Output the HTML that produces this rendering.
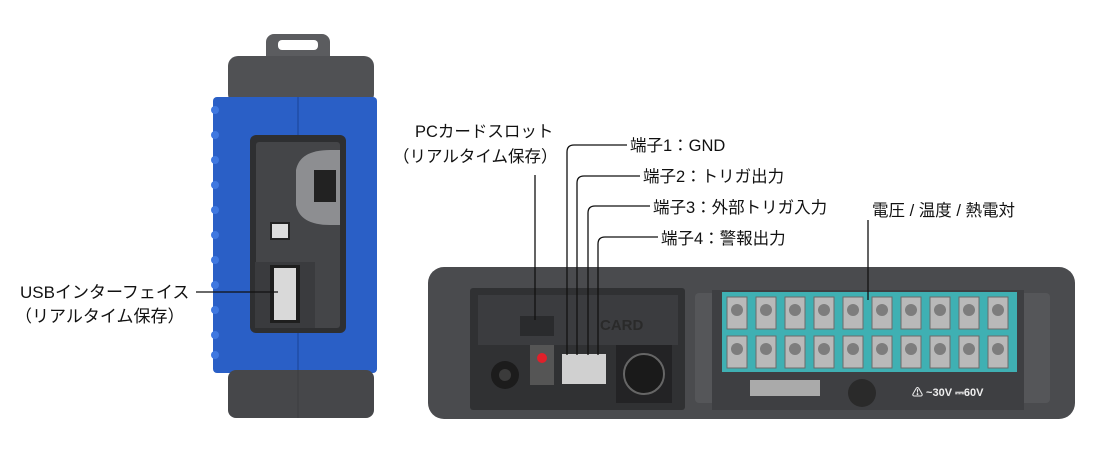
<!DOCTYPE html>
<html><head><meta charset="utf-8"><style>
html,body{margin:0;padding:0;background:#fff;width:1100px;height:450px;overflow:hidden}
svg{display:block}
text{font-family:"Liberation Sans","Noto Sans CJK JP",sans-serif;font-size:16.5px;fill:#111}
</style></head><body>
<svg width="1100" height="450" viewBox="0 0 1100 450">
<!-- Left device -->
<rect x="266" y="34" width="64" height="34" rx="8" fill="#5b5c5f"/>
<rect x="278" y="40" width="40" height="10" rx="4" fill="#fff"/>
<rect x="228" y="56" width="146" height="48" rx="10" fill="#505154"/>
<rect x="213" y="97" width="164" height="276" rx="4" fill="#2a5fc6"/>
<line x1="298" y1="97" x2="298" y2="373" stroke="#1f4da6" stroke-width="1.5"/>
<g fill="#3f78e0">
<circle cx="215" cy="110" r="4"/><circle cx="215" cy="135" r="4"/><circle cx="215" cy="160" r="4"/><circle cx="215" cy="185" r="4"/><circle cx="215" cy="210" r="4"/><circle cx="215" cy="235" r="4"/><circle cx="215" cy="260" r="4"/><circle cx="215" cy="285" r="4"/><circle cx="215" cy="310" r="4"/><circle cx="215" cy="335" r="4"/><circle cx="215" cy="355" r="4"/>
</g>
<rect x="250" y="135" width="96" height="198" rx="6" fill="#2e2f31"/>
<rect x="256" y="142" width="84" height="186" rx="3" fill="#444548"/>
<path d="M296 170 Q300 150 330 150 L340 150 L340 225 L330 225 Q300 225 296 205 Z" fill="#8d8e91"/>
<rect x="314" y="170" width="22" height="32" fill="#222"/>
<rect x="271" y="223" width="18" height="16" fill="#ddd" stroke="#222" stroke-width="2"/>
<rect x="255" y="262" width="60" height="66" fill="#3a3b3e"/>
<rect x="270" y="265" width="30" height="58" fill="#1e1e1e"/>
<rect x="274" y="268" width="22" height="52" fill="#d9d9d9"/>
<rect x="228" y="370" width="146" height="48" rx="8" fill="#46474a"/>
<line x1="298" y1="370" x2="298" y2="418" stroke="#3c3d40"/>

<!-- Right device -->
<rect x="428" y="267" width="647" height="152" rx="16" fill="#4a4b4e"/>
<rect x="470" y="288" width="215" height="122" rx="3" fill="#303133"/>
<rect x="478" y="295" width="200" height="50" fill="#3b3c3f"/>
<text x="600" y="330" style="font-size:15px;font-weight:bold;fill:#2a2a2a">CARD</text>
<rect x="520" y="316" width="34" height="20" fill="#2a2b2d"/>
<circle cx="505" cy="375" r="14" fill="#1c1c1c"/><circle cx="505" cy="375" r="6" fill="#3b3b3b"/>
<rect x="530" y="345" width="24" height="40" fill="#555"/>
<circle cx="542" cy="358" r="5" fill="#e0202a"/>
<rect x="562" y="354" width="44" height="30" fill="#d0d0d0"/>
<rect x="616" y="345" width="56" height="58" fill="#232325"/>
<circle cx="644" cy="374" r="20" fill="#1a1a1a" stroke="#666" stroke-width="2"/>
<rect x="695" y="293" width="30" height="110" rx="4" fill="#555659"/>
<rect x="1020" y="293" width="30" height="110" rx="4" fill="#555659"/>
<rect x="712" y="290" width="312" height="120" fill="#3e3f42"/>
<rect x="722" y="292" width="295" height="80" fill="#3fb0b3"/>
<g fill="#b9b9b9" stroke="#6b6b6b" stroke-width="1">
<rect x="727" y="297" width="20" height="32"/><rect x="756" y="297" width="20" height="32"/><rect x="785" y="297" width="20" height="32"/><rect x="814" y="297" width="20" height="32"/><rect x="843" y="297" width="20" height="32"/><rect x="872" y="297" width="20" height="32"/><rect x="901" y="297" width="20" height="32"/><rect x="930" y="297" width="20" height="32"/><rect x="959" y="297" width="20" height="32"/><rect x="988" y="297" width="20" height="32"/>
<rect x="727" y="336" width="20" height="32"/><rect x="756" y="336" width="20" height="32"/><rect x="785" y="336" width="20" height="32"/><rect x="814" y="336" width="20" height="32"/><rect x="843" y="336" width="20" height="32"/><rect x="872" y="336" width="20" height="32"/><rect x="901" y="336" width="20" height="32"/><rect x="930" y="336" width="20" height="32"/><rect x="959" y="336" width="20" height="32"/><rect x="988" y="336" width="20" height="32"/>
</g>
<g fill="#7d7d7d">
<circle cx="737" cy="310" r="6"/><circle cx="766" cy="310" r="6"/><circle cx="795" cy="310" r="6"/><circle cx="824" cy="310" r="6"/><circle cx="853" cy="310" r="6"/><circle cx="882" cy="310" r="6"/><circle cx="911" cy="310" r="6"/><circle cx="940" cy="310" r="6"/><circle cx="969" cy="310" r="6"/><circle cx="998" cy="310" r="6"/>
<circle cx="737" cy="349" r="6"/><circle cx="766" cy="349" r="6"/><circle cx="795" cy="349" r="6"/><circle cx="824" cy="349" r="6"/><circle cx="853" cy="349" r="6"/><circle cx="882" cy="349" r="6"/><circle cx="911" cy="349" r="6"/><circle cx="940" cy="349" r="6"/><circle cx="969" cy="349" r="6"/><circle cx="998" cy="349" r="6"/>
</g>
<rect x="750" y="380" width="70" height="16" fill="#aaa"/>
<circle cx="862" cy="393" r="14" fill="#2a2a2a"/>
<text x="912" y="396" style="font-size:11px;font-weight:bold;fill:#eee">⚠ ~30V ⎓60V</text>

<!-- Leader lines -->
<g stroke="#111" stroke-width="1.3" fill="none">
<line x1="196" y1="292" x2="278" y2="292"/>
<line x1="535" y1="175" x2="535" y2="320"/>
<path d="M567 355 V152 Q567 145 574 145 H627"/>
<path d="M577 355 V183 Q577 176 584 176 H640"/>
<path d="M588 355 V213 Q588 206 595 206 H650"/>
<path d="M598 355 V244 Q598 237 605 237 H658"/>
<line x1="868" y1="220" x2="868" y2="300"/>
</g>

<!-- Labels -->
<text x="20" y="298" style="font-size:17px">USBインターフェイス</text>
<text x="15" y="322" style="font-size:17px">（リアルタイム保存）</text>
<text x="415" y="137">PCカードスロット</text>
<text x="393" y="162">（リアルタイム保存）</text>
<text x="630" y="151">端子1：GND</text>
<text x="643" y="182">端子2：トリガ出力</text>
<text x="653" y="213">端子3：外部トリガ入力</text>
<text x="661" y="244">端子4：警報出力</text>
<text x="872" y="216">電圧 / 温度 / 熱電対</text>
</svg>
</body></html>
